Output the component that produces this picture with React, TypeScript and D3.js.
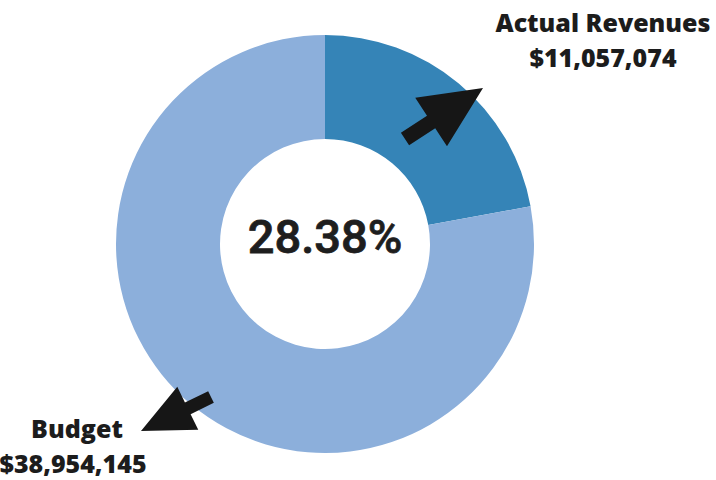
import React from "react";
import * as d3 from "d3";

const categories = ["Actual Revenues", "Budget"];
const values = [11057074, 38954145];
const valueLabels = ["$11,057,074", "$38,954,145"];
const centerLabel = "28.38%";
const colors = ["#3584b7", "#8cafdb"];

const W = 716;
const H = 480;
const cx = 325;
const cy = 244;
const outerR = 209;
const innerR = 105;

function arrowPath(tail: [number, number], tip: [number, number], shaftW: number, headLen: number, headW: number) {
  const dx = tip[0] - tail[0];
  const dy = tip[1] - tail[1];
  const len = Math.hypot(dx, dy);
  const ux = dx / len, uy = dy / len;
  const px = -uy, py = ux;
  const bx = tip[0] - ux * headLen, by = tip[1] - uy * headLen;
  const pts: [number, number][] = [
    [tail[0] + px * shaftW / 2, tail[1] + py * shaftW / 2],
    [bx + px * shaftW / 2, by + py * shaftW / 2],
    [bx + px * headW / 2, by + py * headW / 2],
    [tip[0], tip[1]],
    [bx - px * headW / 2, by - py * headW / 2],
    [bx - px * shaftW / 2, by - py * shaftW / 2],
    [tail[0] - px * shaftW / 2, tail[1] - py * shaftW / 2],
  ];
  return d3.line()(pts) + "Z";
}

export default function App() {
  const pie = d3.pie<number>().sort(null).value((d) => d);
  const arcs = pie(values);
  const arc = d3.arc<d3.PieArcDatum<number>>().innerRadius(innerR).outerRadius(outerR);

  const arrows = [
    { tail: [405 - cx, 139 - cy] as [number, number], tip: [483 - cx, 88 - cy] as [number, number], sw: 15, hl: 62, hw: 58 },
    { tail: [211 - cx, 397 - cy] as [number, number], tip: [141 - cx, 431 - cy] as [number, number], sw: 13, hl: 52, hw: 48 },
  ];

  const labelFont = "'Open Sans', 'DejaVu Sans', sans-serif";

  return (
    <svg width={W} height={H} style={{ position: "absolute", left: 0, top: 0, background: "#fff" }}>
      <rect width={W} height={H} fill="#fff" />
      <g transform={`translate(${cx},${cy})`}>
        {arcs.map((a, i) => (
          <path key={categories[i]} d={arc(a) || ""} fill={colors[i]} />
        ))}
        {arrows.map((ar, i) => (
          <path key={i} d={arrowPath(ar.tail, ar.tip, ar.sw, ar.hl, ar.hw)} fill="#161616" />
        ))}
        <text x={0} y={9} textAnchor="middle" fontFamily="Roboto, 'Liberation Sans', Arial, sans-serif" fontWeight={500} fontSize={47} fill="#1e1e1e" stroke="#1e1e1e" strokeWidth={0.8}>
          {centerLabel}
        </text>
      </g>
      <g fontFamily={labelFont} fontWeight={800} fill="#1c1c1c" textAnchor="middle">
        <text x={603} y={32} fontSize={25}>{categories[0]}</text>
        <text x={603} y={67} fontSize={25}>{valueLabels[0]}</text>
        <text x={77} y={438} fontSize={25}>{categories[1]}</text>
        <text x={73} y={473} fontSize={25}>{valueLabels[1]}</text>
      </g>
    </svg>
  );
}
